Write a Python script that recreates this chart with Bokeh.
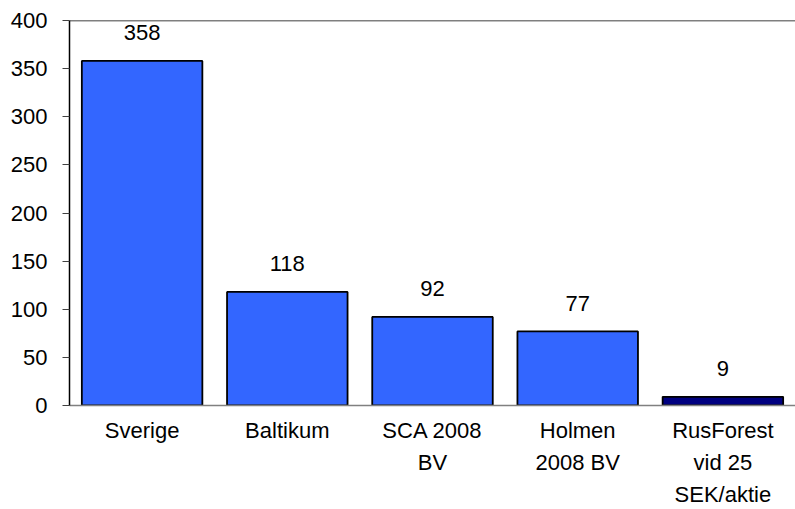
from bokeh.plotting import figure
from bokeh.models import ColumnDataSource, Span, FactorRange
from bokeh.embed import file_html
from bokeh.resources import INLINE
from bokeh.core.properties import value

categories = ["Sverige", "Baltikum", "SCA 2008\nBV", "Holmen\n2008 BV", "RusForest\nvid 25\nSEK/aktie"]
values = [358, 118, 92, 77, 9]
colors = ["#3366FF", "#3366FF", "#3366FF", "#3366FF", "#000080"]
labels = [str(v) for v in values]
y_ticks = [0, 50, 100, 150, 200, 250, 300, 350, 400]

src = ColumnDataSource(dict(cat=categories, val=values, col=colors, lab=labels))

p = figure(x_range=FactorRange(*categories, range_padding=0), y_range=(0, 400),
           width=795, height=509, output_backend="svg", toolbar_location=None,
           min_border_left=69, min_border_right=0, min_border_top=20, min_border_bottom=104)
p.outline_line_color = None
p.grid.grid_line_color = None
p.background_fill_color = "white"
p.border_fill_color = "white"

p.vbar(x="cat", top="val", width=0.83, source=src, fill_color="col",
       line_color="black", line_width=1.8)

p.text(x="cat", y="val", text="lab", source=src, text_align="center",
       text_baseline="alphabetic", y_offset=-28, text_font=value("Liberation Sans"),
       text_font_size="22px", text_color="black")

p.add_layout(Span(location=400, dimension="width", line_color="black", line_width=1.5))

yax = p.yaxis[0]
yax.ticker = y_ticks
yax.axis_line_color = "black"
yax.axis_line_width = 1.5
yax.major_tick_line_color = "#404040"
yax.major_tick_out = 7
yax.major_tick_in = 0
yax.minor_tick_line_color = None
yax.major_label_text_font = "Liberation Sans"
yax.major_label_text_font_size = "22px"
yax.major_label_text_color = "black"
yax.major_label_standoff = 15

xax = p.xaxis[0]
xax.axis_line_color = "#808080"
xax.axis_line_width = 1.5
xax.major_tick_line_color = None
xax.minor_tick_line_color = None
xax.major_label_text_font = "Liberation Sans"
xax.major_label_text_font_size = "22px"
xax.major_label_text_color = "black"
xax.major_label_standoff = 6
xax.major_label_text_line_height = 1.28

open("out.html", "w").write(file_html(p, INLINE))
